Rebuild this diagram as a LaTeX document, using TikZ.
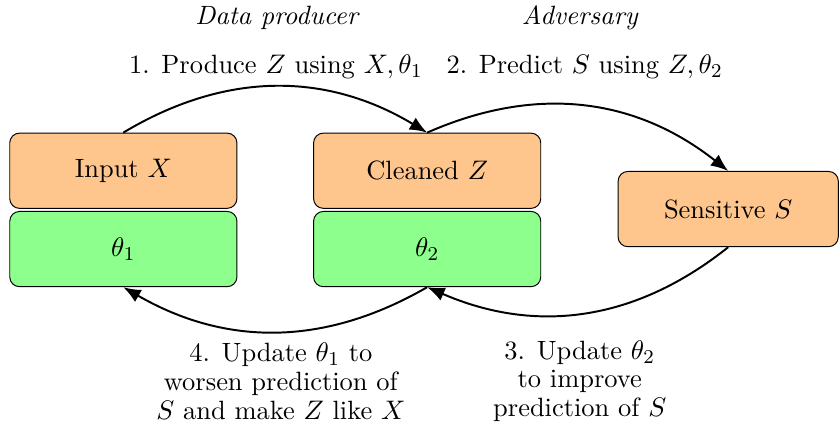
\documentclass[tikz,border=0pt]{standalone}
\definecolor{DataOrange}{RGB}{254, 198, 140}
\definecolor{ParamGreen}{RGB}{140, 255, 140}
\usepackage{amsmath, amssymb}
\usepackage{tikz}
\usetikzlibrary{arrows.meta, positioning}

\begin{document}
\begin{tikzpicture}[scale=1.00,
        every node/.style={font=\fontsize{10.8}{11.8}\selectfont},
        databox/.style={draw, rounded corners=4pt, fill=DataOrange,
             minimum width=3.26cm, minimum height=1.08cm},
        parambox/.style={databox, fill=ParamGreen},
        flow/.style={thick, -{Latex[length=2.5mm, width=2mm]}}]
        \useasboundingbox (0,0) rectangle (12.04,-6.14);
        \node[databox] (input) at (1.77,-2.45) {Input \(X\)};
        \node[parambox, below=0.03cm of input] (theta1) {\(\theta_1\)};
        \node[databox] (cleaned) at (6.13,-2.45) {Cleaned \(Z\)};
        \node[parambox, below=0.03cm of cleaned] (theta2) {\(\theta_2\)};
        \node[databox, minimum width=3.16cm] (sensitive) at (10.45,-3.00)
             {Sensitive \(S\)};
        \node (producer) at (3.97,-0.26) {\itshape Data producer};
        \node (adversary) at (8.32,-0.26) {\itshape Adversary};
        \node (produce) at (3.96,-0.96) {1. Produce \(Z\) using \(X, \theta_1\)};
        \node (predict) at (8.39,-0.96) {2. Predict \(S\) using \(Z, \theta_2\)};
        \node[align=center] (update1) at (4.03,-5.47)
             {4. Update \(\theta_1\) to\\worsen prediction of\\\(S\) and make \(Z\) like \(X\)};
        \node[align=center] (update2) at (8.32,-5.47)
             {3. Update \(\theta_2\)\\to improve\\prediction of \(S\)};
        \draw[flow] (input.north) to[bend left=31] (cleaned.north);
        \draw[flow] (cleaned.north) to[bend left=31] (sensitive.north);
        \draw[flow] (sensitive.south) to[bend left=31] (theta2.south);
        \draw[flow] (theta2.south) to[bend left=30] (theta1.south);
      \end{tikzpicture}
\end{document}
